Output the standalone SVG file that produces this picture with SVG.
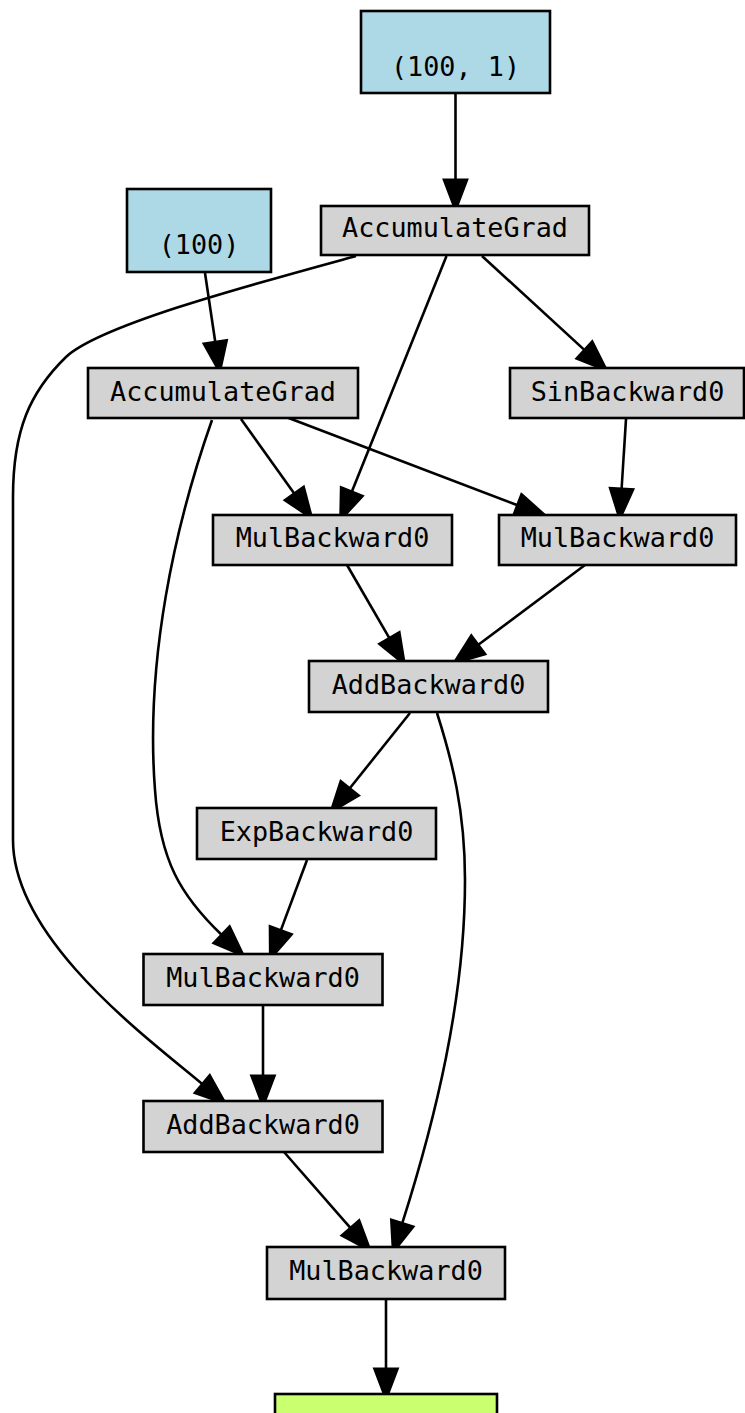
<svg xmlns="http://www.w3.org/2000/svg" width="745" height="1413" viewBox="0 0 745 1413">
  <style>
    .box { stroke: #000; stroke-width: 2.6; }
    .op { fill: #d3d3d3; }
    .leaf { fill: #add8e6; }
    .out { fill: #caff70; }
    .lbl { font-family: "DejaVu Sans Mono", "Liberation Mono", monospace; font-size: 26.8px; fill: #000; text-anchor: middle; }
    .edge { fill: none; stroke: #000; stroke-width: 2.6; marker-end: url(#arrow); }
  </style>
  <defs>
    <marker id="arrow" markerUnits="userSpaceOnUse" orient="auto" refX="0" refY="0" markerWidth="40" markerHeight="40" viewBox="-3 -14 34 28" overflow="visible">
      <path d="M0,-9.5 L25,0 L0,9.5 Z" fill="#000" stroke="#000" stroke-width="2.6"/>
    </marker>
  </defs>
  <rect width="745" height="1413" fill="#fff"/>

  <!-- edges -->
  <g id="edges">
    <path class="edge" d="M455.5,93 L455.5,180"/>
    <path class="edge" d="M205,273 L215.3,342.3"/>
    <path class="edge" d="M356,256 C250,285 100,325 66,357 C30,392 13,430 13,497 L13,840 C13,940 150,1040 202.5,1084.2"/>
    <path class="edge" d="M446.5,256 L351.7,492"/>
    <path class="edge" d="M482,256 L584.6,350.1"/>
    <path class="edge" d="M212,420 C175,525 145,660 155,790 C160,860 180,895 221.8,935"/>
    <path class="edge" d="M241,419 L294.4,493.7"/>
    <path class="edge" d="M286,417 L517.6,505.2"/>
    <path class="edge" d="M626,419 L621.6,489"/>
    <path class="edge" d="M347,565 L389.5,638.4"/>
    <path class="edge" d="M585,565 L478,645"/>
    <path class="edge" d="M410,713 L349.6,788.5"/>
    <path class="edge" d="M437,713 C452,760 465,810 465,880 C465,1000 435,1120 402.2,1223.4"/>
    <path class="edge" d="M307,860 L280.7,930.6"/>
    <path class="edge" d="M263,1005 L263,1076"/>
    <path class="edge" d="M284,1152 L350.6,1228.2"/>
    <path class="edge" d="M386,1299 L386,1369"/>
  </g>

  <!-- nodes -->
  <g id="leaf_w">
    <rect class="box leaf" x="361" y="11" width="189" height="82"/>
    <text class="lbl" x="455.5" y="76">(100, 1)</text>
  </g>
  <g id="acc_w">
    <rect class="box op" x="321" y="206" width="268" height="49"/>
    <text class="lbl" x="455" y="237">AccumulateGrad</text>
  </g>
  <g id="leaf_b">
    <rect class="box leaf" x="127" y="189" width="144" height="83"/>
    <text class="lbl" x="199" y="253.5">(100)</text>
  </g>
  <g id="acc_b">
    <rect class="box op" x="88" y="368" width="270" height="50"/>
    <text class="lbl" x="223" y="400.5">AccumulateGrad</text>
  </g>
  <g id="sin">
    <rect class="box op" x="510" y="368" width="234" height="50"/>
    <text class="lbl" x="627.5" y="400.5">SinBackward0</text>
  </g>
  <g id="mul1">
    <rect class="box op" x="213" y="515" width="239" height="50"/>
    <text class="lbl" x="332.5" y="547">MulBackward0</text>
  </g>
  <g id="mul2">
    <rect class="box op" x="499" y="515" width="237" height="50"/>
    <text class="lbl" x="617.5" y="547">MulBackward0</text>
  </g>
  <g id="add1">
    <rect class="box op" x="309" y="661" width="239" height="51"/>
    <text class="lbl" x="428.5" y="693.5">AddBackward0</text>
  </g>
  <g id="exp">
    <rect class="box op" x="197" y="808" width="239" height="51"/>
    <text class="lbl" x="316.5" y="840.5">ExpBackward0</text>
  </g>
  <g id="mul3">
    <rect class="box op" x="143.5" y="954" width="239" height="51"/>
    <text class="lbl" x="263" y="986.5">MulBackward0</text>
  </g>
  <g id="add2">
    <rect class="box op" x="143.5" y="1101" width="239" height="51"/>
    <text class="lbl" x="263" y="1133.5">AddBackward0</text>
  </g>
  <g id="mul4">
    <rect class="box op" x="267" y="1247" width="238" height="52"/>
    <text class="lbl" x="386" y="1280">MulBackward0</text>
  </g>
  <g id="output">
    <rect class="box out" x="275" y="1394" width="222" height="83"/>
  </g>
</svg>
